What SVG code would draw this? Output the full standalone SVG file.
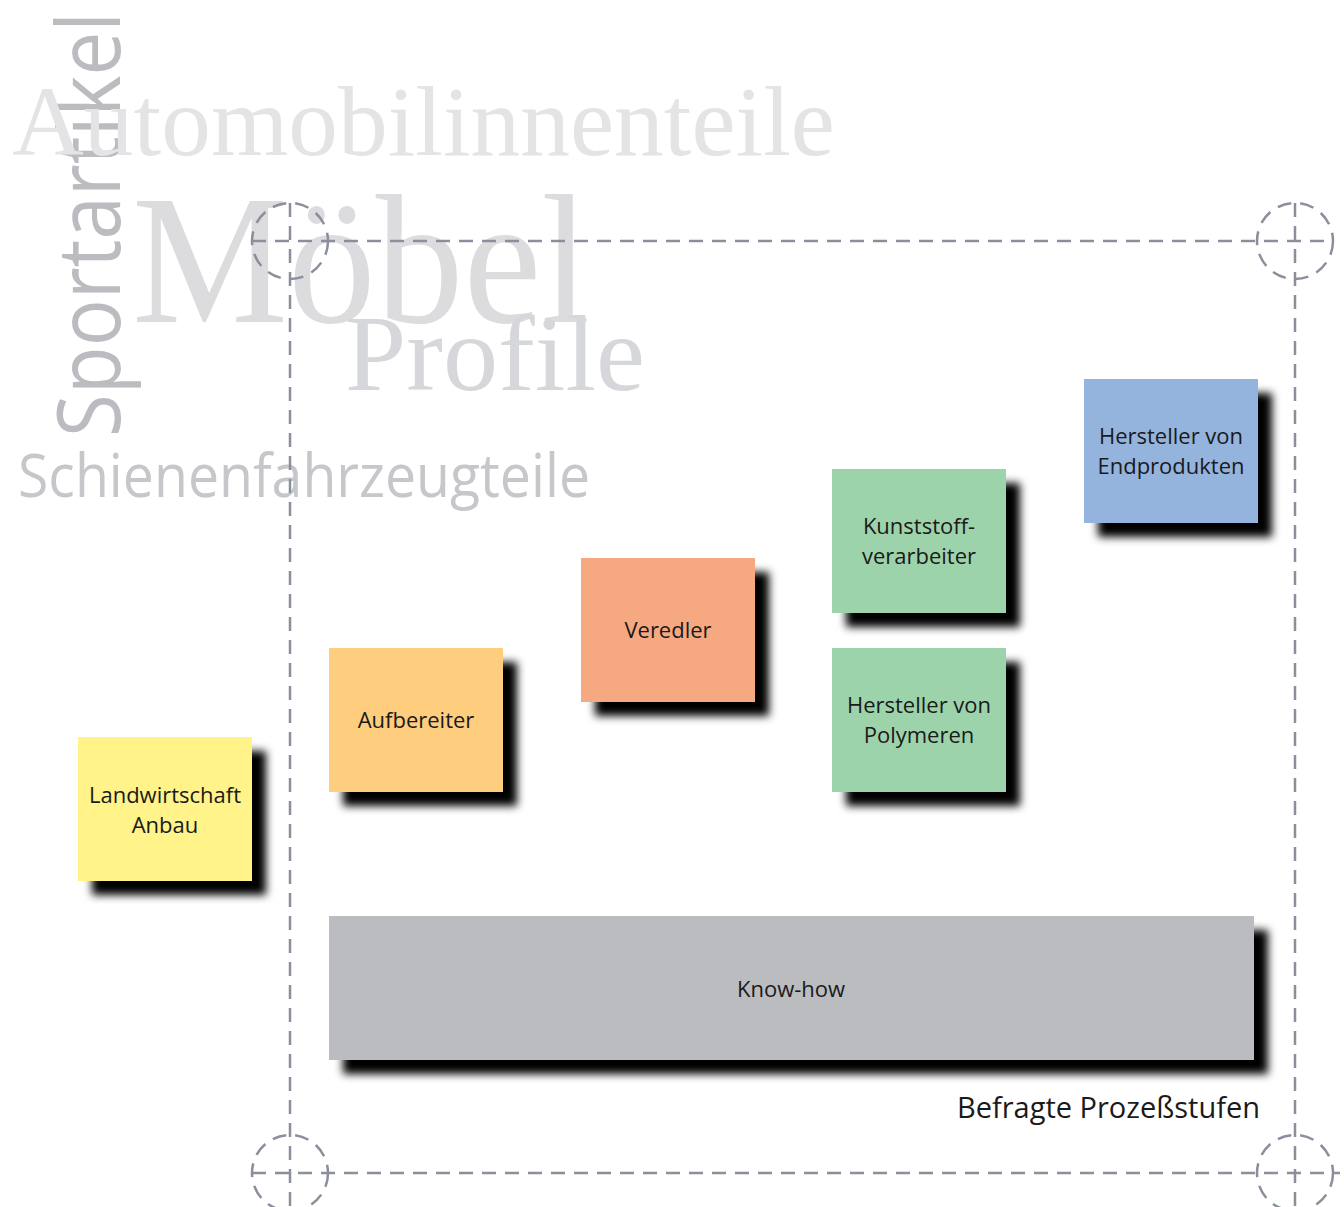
<svg xmlns="http://www.w3.org/2000/svg" width="1344" height="1207" viewBox="0 0 1344 1207">
<defs>
<style>
.bg{font-family:"Liberation Serif",serif;}
.bgs{font-family:"Open Sans","Noto Sans",sans-serif;}
.lbl{font-family:"Open Sans","Liberation Sans",sans-serif;font-size:22px;fill:#1a1a1a;text-anchor:middle;}
.frame{fill:none;stroke:#8b8e9b;stroke-width:2.5;stroke-dasharray:14 9;}
.sh{fill:#000;filter:url(#blur);}
</style>
<filter id="blur" x="-20%" y="-20%" width="140%" height="140%"><feGaussianBlur stdDeviation="4"/></filter>
</defs>
<rect width="1344" height="1207" fill="#fff"/>
<g id="background-words">
<text class="bgs" transform="translate(120,437) rotate(-90)" font-size="88" fill="#bbbcc0" textLength="425" lengthAdjust="spacingAndGlyphs">Sportartikel</text>
<text class="bg" x="12" y="155" font-size="100" fill="#e4e4e6" textLength="823" lengthAdjust="spacingAndGlyphs">Automobilinnenteile</text>
<text class="bg" x="132" y="322" font-size="185" fill="#dcdcdf" textLength="458" lengthAdjust="spacingAndGlyphs">Möbel</text>
<text class="bg" x="345" y="390" font-size="108" fill="#d6d7da" textLength="300" lengthAdjust="spacingAndGlyphs">Profile</text>
<text class="bgs" x="18" y="497" font-size="60" fill="#c6c7ca" textLength="572" lengthAdjust="spacingAndGlyphs">Schienenfahrzeugteile</text>
</g>
<g id="connectors">
<line class="frame" x1="252" y1="241" x2="1333" y2="241"/>
<line class="frame" x1="252" y1="1173" x2="1340" y2="1173"/>
<line class="frame" x1="290" y1="203" x2="290" y2="1207"/>
<line class="frame" x1="1295" y1="203" x2="1295" y2="1207"/>
<circle class="frame" cx="290" cy="241" r="38"/>
<circle class="frame" cx="1295" cy="241" r="38"/>
<circle class="frame" cx="290" cy="1173" r="38"/>
<circle class="frame" cx="1295" cy="1173" r="38"/>
</g>
<g id="landwirtschaft">
<rect class="sh" x="92" y="751" width="174" height="144"/>
<rect x="78" y="737" width="174" height="144" fill="#fff389"/>
<text class="lbl" x="165" y="803">Landwirtschaft</text>
<text class="lbl" x="165" y="833">Anbau</text>
</g>
<g id="aufbereiter">
<rect class="sh" x="343" y="662" width="174" height="144"/>
<rect x="329" y="648" width="174" height="144" fill="#fecd7e"/>
<text class="lbl" x="416" y="728">Aufbereiter</text>
</g>
<g id="veredler">
<rect class="sh" x="595" y="572" width="174" height="144"/>
<rect x="581" y="558" width="174" height="144" fill="#f6a980"/>
<text class="lbl" x="668" y="638">Veredler</text>
</g>
<g id="kunststoffverarbeiter">
<rect class="sh" x="846" y="483" width="174" height="144"/>
<rect x="832" y="469" width="174" height="144" fill="#9dd3ab"/>
<text class="lbl" x="919" y="534">Kunststoff-</text>
<text class="lbl" x="919" y="564">verarbeiter</text>
</g>
<g id="polymere">
<rect class="sh" x="846" y="662" width="174" height="144"/>
<rect x="832" y="648" width="174" height="144" fill="#9dd3ab"/>
<text class="lbl" x="919" y="713">Hersteller von</text>
<text class="lbl" x="919" y="743">Polymeren</text>
</g>
<g id="endprodukte">
<rect class="sh" x="1098" y="393" width="174" height="144"/>
<rect x="1084" y="379" width="174" height="144" fill="#94b4de"/>
<text class="lbl" x="1171" y="444">Hersteller von</text>
<text class="lbl" x="1171" y="474">Endprodukten</text>
</g>
<g id="knowhow">
<rect class="sh" x="343" y="930" width="925" height="144"/>
<rect x="329" y="916" width="925" height="144" fill="#bbbcc0"/>
<text class="lbl" x="791" y="997">Know-how</text>
</g>
<g id="caption">
<text x="1260" y="1118" font-family="Open Sans, Liberation Sans, sans-serif" font-size="29" fill="#1a1a1a" text-anchor="end">Befragte Prozeßstufen</text>
</g>
</svg>
